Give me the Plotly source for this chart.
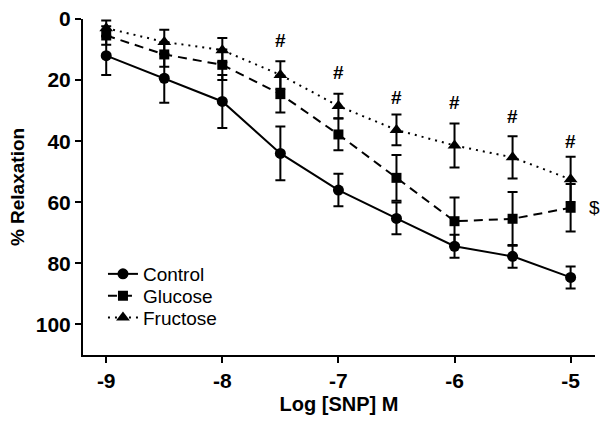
import plotly.graph_objects as go

log_conc = [-9, -8.5, -8, -7.5, -7, -6.5, -6, -5.5, -5]

control = [12, 19.4, 27, 44, 56, 65.3, 74.4, 77.7, 84.6]
control_err = [6.3, 8, 8.7, 8.8, 5.3, 5.2, 3.8, 3.7, 3.6]

glucose = [5.4, 11.6, 15, 24.6, 37.8, 52, 66.2, 65.4, 61.8]
glucose_err = [3, 4, 5, 6, 5.2, 7.5, 7.8, 8.8, 7.8]

fructose = [3, 7.5, 10.2, 18.3, 28.5, 36.3, 41.4, 45.3, 52.5]
fructose_err = [2.5, 4, 4, 4.5, 4, 5, 7.2, 6.9, 7.4]

hash_x = [-7.5, -7, -6.5, -6, -5.5, -5]
hash_y = [7, 17.5, 25.8, 27.4, 32, 40]

font = "Liberation Sans, Arial, sans-serif"

fig = go.Figure()

def add(name, y, err, symbol, dash, size, legend):
    fig.add_trace(go.Scatter(
        x=log_conc, y=y, name=name, mode="lines+markers", legend=legend,
        line=dict(color="black", width=2, dash=dash),
        marker=dict(symbol=symbol, size=size, color="black"),
        error_y=dict(type="data", array=err, visible=True, color="black",
                     thickness=2, width=5),
    ))

add("Control", control, control_err, "circle", "solid", 11, "legend")
add("Glucose", glucose, glucose_err, "square", "9px,6px", 10, "legend2")
add("Fructose", fructose, fructose_err, "triangle-up", "2px,5px", 12, "legend3")

for xv, yv in zip(hash_x, hash_y):
    fig.add_annotation(x=xv, y=yv, text="<b>#</b>", showarrow=False,
                       font=dict(size=19, color="black", family=font))
fig.add_annotation(x=-4.86, y=61.8, text="$", showarrow=False,
                   xanchor="left", font=dict(size=19, color="black", family=font))

leg_common = dict(xanchor="left", yanchor="middle", bgcolor="rgba(0,0,0,0)",
                  font=dict(size=19, family=font), itemwidth=30)

fig.update_layout(
    width=602, height=432,
    margin=dict(l=83, r=7, t=15, b=77),
    paper_bgcolor="white", plot_bgcolor="white",
    font=dict(family=font, color="black"),
    showlegend=True,
    legend=dict(x=0.039, y=0.241, **leg_common),
    legend2=dict(x=0.039, y=0.176, **leg_common),
    legend3=dict(x=0.039, y=0.111, **leg_common),
    xaxis=dict(range=[-9.2, -4.79], tickvals=[-9, -8, -7, -6, -5],
               ticktext=["<b>-9</b>", "<b>-8</b>", "<b>-7</b>", "<b>-6</b>", "<b>-5</b>"],
               showline=True, linecolor="black", linewidth=2,
               ticks="outside", ticklen=6, tickwidth=2, tickcolor="black",
               showgrid=False, zeroline=False,
               tickfont=dict(size=21, family=font),
               title=dict(text="<b>Log [SNP] M</b>", font=dict(size=20, family=font), standoff=6)),
    yaxis=dict(range=[110, 0], tickvals=[0, 20, 40, 60, 80, 100],
               ticktext=["<b>0</b>", "<b>20</b>", "<b>40</b>", "<b>60</b>", "<b>80</b>", "<b>100</b>"],
               showline=True, linecolor="black", linewidth=2,
               ticks="outside", ticklen=6, tickwidth=2, tickcolor="black",
               showgrid=False, zeroline=False,
               tickfont=dict(size=21, family=font),
               title=dict(text="<b>% Relaxation</b>", font=dict(size=19, family=font), standoff=6)),
)

fig.write_html("out.html")
